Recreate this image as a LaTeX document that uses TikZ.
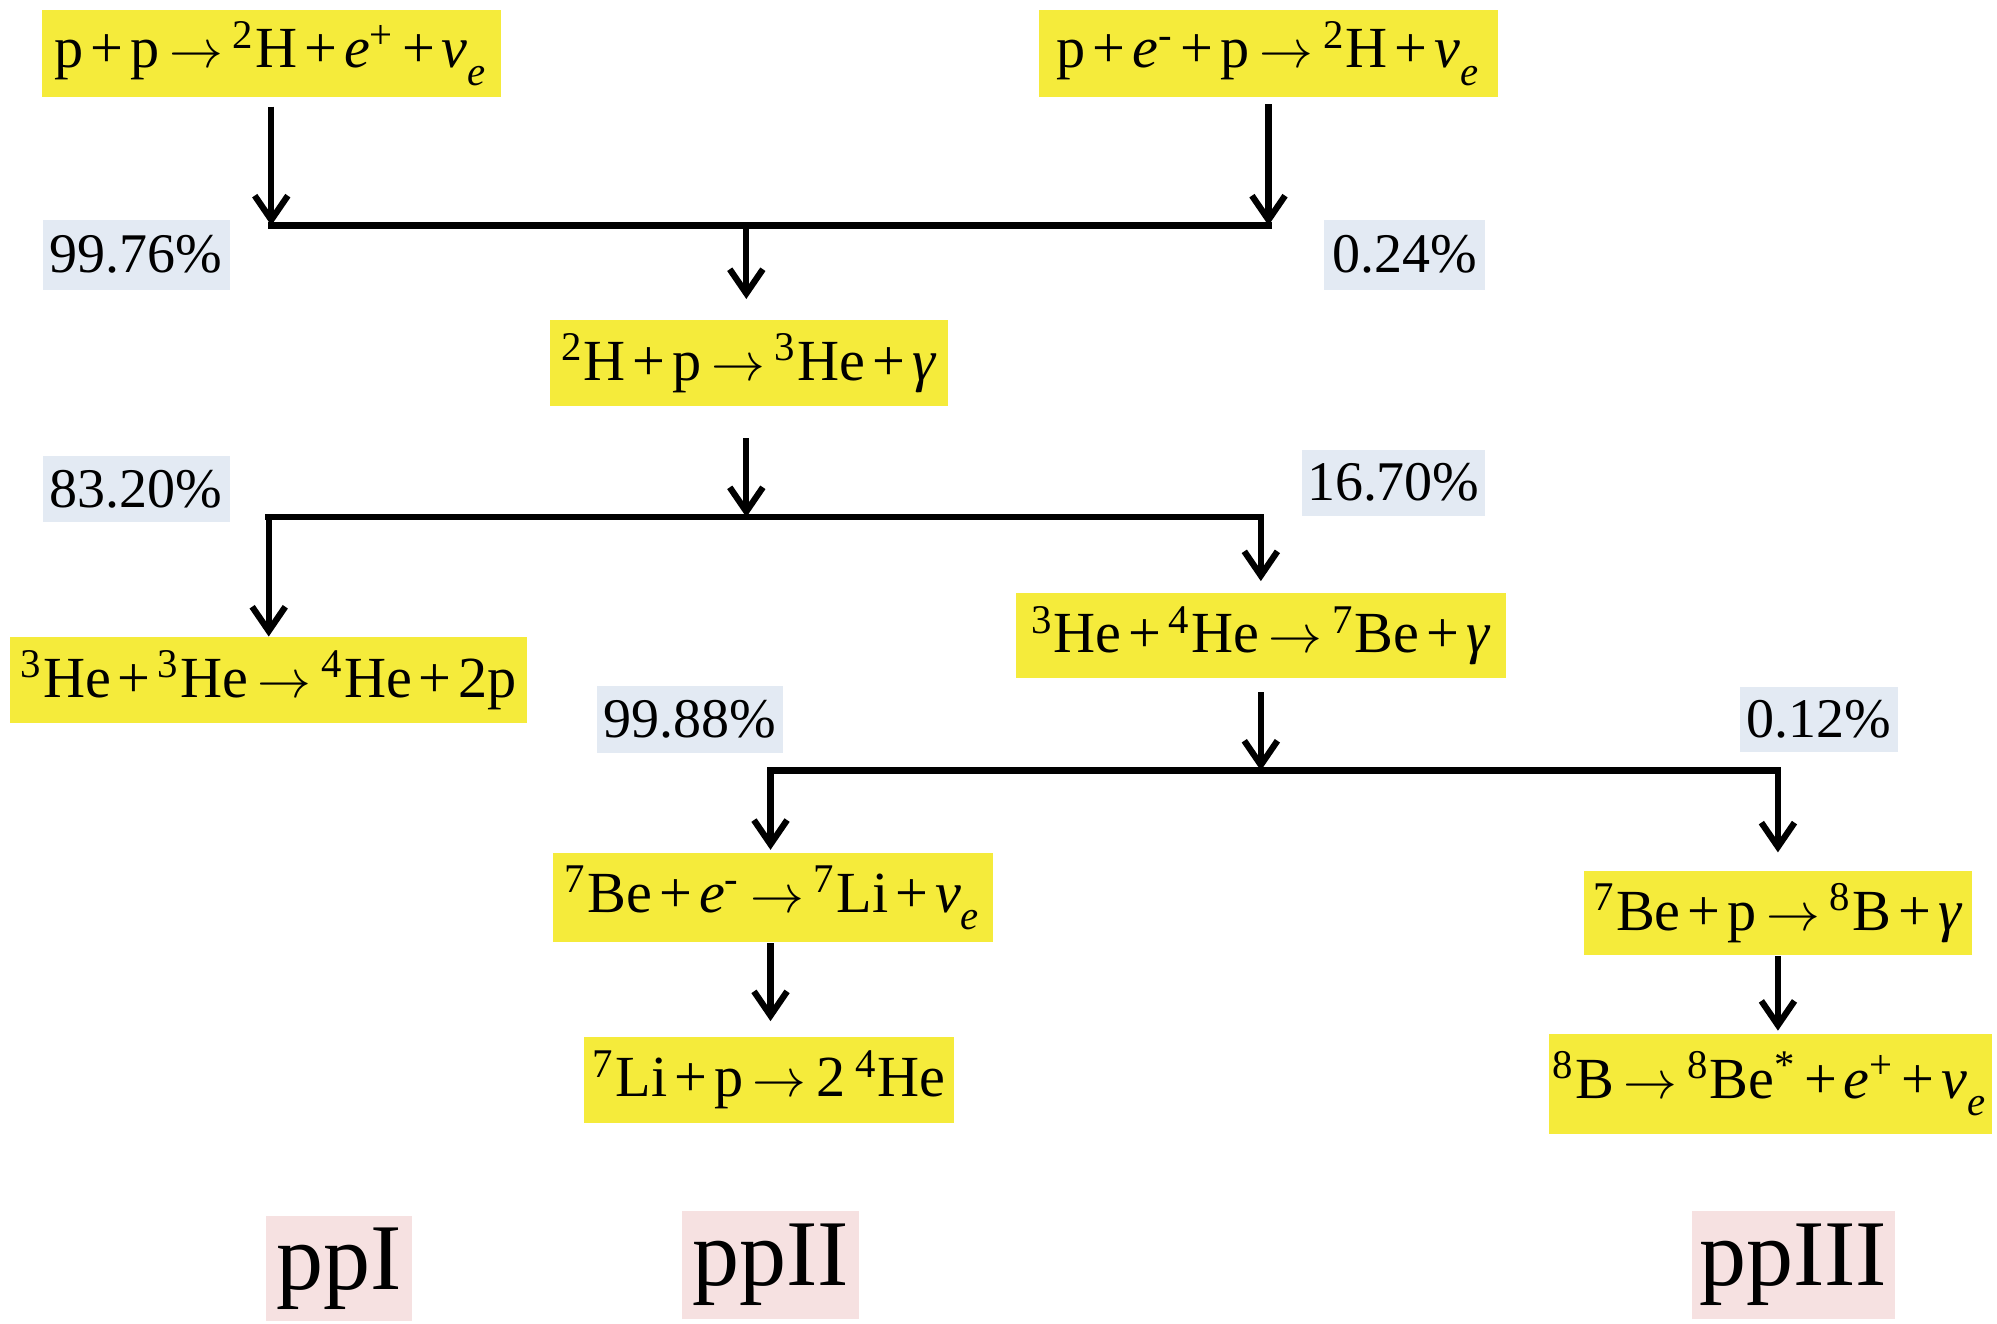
\documentclass[tikz,border=0pt]{standalone}
\usepackage{fontspec}
\setmainfont{Liberation Serif}
\usetikzlibrary{arrows.meta}
\definecolor{eqyellow}{RGB}{245,235,59}
\definecolor{pctblue}{RGB}{227,234,243}
\definecolor{pppink}{RGB}{246,225,225}
\newcommand{\rarr}{\,$\rightarrow$\,}
\newcommand{\nuE}{\textit{ν}\raisebox{-0.35ex}{\textsubscript{\textit{e}}}}
\newcommand{\pls}{\kern0.12em+\kern0.12em}
\begin{document}
\begin{tikzpicture}[x=0.01cm,y=-0.01cm,
 eq/.style={fill=eqyellow, inner sep=0pt, font=\fontsize{13}{15}\selectfont},
 pct/.style={fill=pctblue, inner sep=0pt, font=\fontsize{12.5}{14}\selectfont},
 chain/.style={fill=pppink, inner sep=0pt, font=\fontsize{21}{24}\selectfont},
 arr/.style={-{Straight Barb[length=1.9mm,width=2.6mm,line width=1.4pt]}, line width=1.4pt},
 bar/.style={line width=1.5pt, line cap=rect}]
\useasboundingbox (0,0) rectangle (1568,1039);

% reaction boxes
\node[eq, minimum width=3.60cm, minimum height=0.68cm] (A) at (213,42)
  {p\pls p\rarr\textsuperscript{2}H\pls\textit{e}\textsuperscript{+}\pls\nuE};
\node[eq, minimum width=3.60cm, minimum height=0.68cm] (B) at (996,42)
  {p\pls\textit{e}\textsuperscript{-}\pls p\rarr\textsuperscript{2}H\pls\nuE};
\node[eq, minimum width=3.12cm, minimum height=0.67cm] (C) at (588,285)
  {\textsuperscript{2}H\pls p\rarr\textsuperscript{3}He\pls\textit{γ}};
\node[eq, minimum width=4.06cm, minimum height=0.67cm] (D) at (211,534)
  {\textsuperscript{3}He\pls\textsuperscript{3}He\rarr\textsuperscript{4}He\pls 2p};
\node[eq, minimum width=3.84cm, minimum height=0.66cm] (E) at (990,499)
  {\textsuperscript{3}He\pls\textsuperscript{4}He\rarr\textsuperscript{7}Be\pls\textit{γ}};
\node[eq, minimum width=3.45cm, minimum height=0.70cm] (F) at (607,705)
  {\textsuperscript{7}Be\pls\textit{e}\textsuperscript{-}\rarr\textsuperscript{7}Li\pls\nuE};
\node[eq, minimum width=2.90cm, minimum height=0.67cm] (G) at (604,848)
  {\textsuperscript{7}Li\pls p\rarr 2\,\textsuperscript{4}He};
\node[eq, minimum width=3.05cm, minimum height=0.66cm] (H) at (1396,717)
  {\textsuperscript{7}Be\pls p\rarr\textsuperscript{8}B\pls\textit{γ}};
\node[eq, minimum width=3.48cm, minimum height=0.78cm] (I) at (1390,851)
  {\textsuperscript{8}B\rarr\textsuperscript{8}Be\textsuperscript{*}\pls\textit{e}\textsuperscript{+}\pls\nuE};

% branching percentages
\node[pct, minimum width=1.47cm, minimum height=0.55cm] (p1) at (107,200) {99.76\%};
\node[pct, minimum width=1.26cm, minimum height=0.55cm] (p2) at (1103,200) {0.24\%};
\node[pct, minimum width=1.47cm, minimum height=0.52cm] (p3) at (107,384) {83.20\%};
\node[pct, minimum width=1.44cm, minimum height=0.52cm] (p4) at (1094,379) {16.70\%};
\node[pct, minimum width=1.46cm, minimum height=0.53cm] (p5) at (542,565) {99.88\%};
\node[pct, minimum width=1.24cm, minimum height=0.51cm] (p6) at (1428,565) {0.12\%};

% chain names
\node[chain, minimum width=1.15cm, minimum height=0.82cm] (c1) at (266,996) {ppI};
\node[chain, minimum width=1.39cm, minimum height=0.85cm] (c2) at (605,993) {ppII};
\node[chain, minimum width=1.59cm, minimum height=0.85cm] (c3) at (1408,993) {ppIII};

% junctions
\coordinate (j1) at (586,177);
\coordinate (j2) at (586,406);
\coordinate (j3) at (990,605);

% first merge
\draw[arr] ([yshift=-0.07cm]A.south) -- (A.south |- j1);
\draw[arr] ([yshift=-0.05cm]B.south) -- (B.south |- j1);
\draw[bar] (A.south |- j1) -- (B.south |- j1);
\draw[arr] (j1) -- ([yshift=0.16cm]j1 |- C.north);

% second split
\draw[arr] ([yshift=-0.25cm]j2 |- C.south) -- (j2);
\draw[bar] (D.north |- j2) -- (E.north |- j2);
\draw[arr] (D.north |- j2) -- (D.north);
\draw[arr] (E.north |- j2) -- ([yshift=0.09cm]E.north);

% third split
\draw[arr] ([yshift=-0.11cm]E.south) -- (j3);
\draw[bar] ([xshift=-0.02cm]F.north |- j3) -- (H.north |- j3);
\draw[arr] ([xshift=-0.02cm]F.north |- j3) -- ([xshift=-0.02cm,yshift=0.02cm]F.north);
\draw[arr] (H.north |- j3) -- ([yshift=0.14cm]H.north);

% chain continuations
\draw[arr] ([xshift=-0.02cm]F.south) -- ([xshift=-0.02cm,yshift=0.12cm]F.south |- G.north);
\draw[arr] (H.south) -- ([yshift=0.02cm]H.south |- I.north);
\end{tikzpicture}
\end{document}
